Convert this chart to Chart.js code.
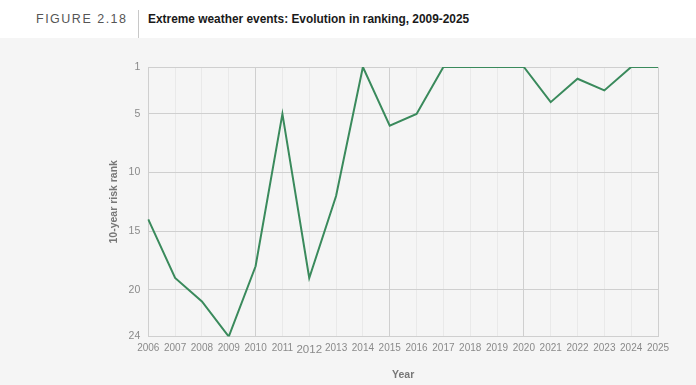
<!DOCTYPE html>
<html>
<head>
<meta charset="utf-8">
<script src="https://cdn.jsdelivr.net/npm/chart.js@4.4.1/dist/chart.umd.min.js"></script>
<style>
  html, body { margin: 0; padding: 0; width: 696px; height: 385px; background: #f5f5f5; overflow: hidden; font-family: "Liberation Sans", Arial, sans-serif; }
  #header { position: absolute; left: 0; top: 0; width: 696px; height: 38px; background: #ffffff; }
  #fig { position: absolute; left: 36px; top: 11px; font-size: 12.5px; letter-spacing: 1.5px; color: #555; line-height: 16px; }
  #divider { position: absolute; left: 138px; top: 10px; width: 1px; height: 28px; background: #c8c8c8; }
  #title { position: absolute; left: 148px; top: 11px; font-size: 11.9px; font-weight: bold; color: #1a1a1a; line-height: 16px; }
  #wrap { position: absolute; left: 0; top: 38px; width: 696px; height: 347px; }
</style>
</head>
<body>
<div id="header">
  <div id="fig">FIGURE 2.18</div>
  <div id="divider"></div>
  <div id="title">Extreme weather events: Evolution in ranking, 2009-2025</div>
</div>
<div id="wrap"><canvas id="c" width="696" height="347"></canvas></div>
<script>
const years = ["2006","2007","2008","2009","2010","2011","2012","2013","2014","2015","2016","2017","2018","2019","2020","2021","2022","2023","2024","2025"];
const ranks = [14, 19, 21, 24, 18, 5, 19, 12, 1, 6, 5, 1, 1, 1, 1, 4, 2, 3, 1, 1];
const rankTicks = [1, 5, 10, 15, 20, 24];
const majorYears = ["2010", "2015", "2020", "2025"];

new Chart(document.getElementById('c'), {
  type: 'line',
  data: {
    labels: years,
    datasets: [{
      data: ranks,
      borderColor: '#3a8a5c',
      borderWidth: 2,
      pointRadius: 0,
      tension: 0,
      fill: false
    }]
  },
  options: {
    responsive: false,
    animation: false,
    layout: { padding: { left: 108, right: 38, top: 29, bottom: 4 } },
    plugins: { legend: { display: false }, tooltip: { enabled: false } },
    scales: {
      x: {
        type: 'category',
        offset: false,
        grid: {
          color: (ctx) => {
            const lbl = ctx.tick ? years[ctx.index] : '';
            return majorYears.includes(lbl) ? '#cfcfcf' : '#e9e9e9';
          },
          lineWidth: 1,
          drawTicks: false
        },
        border: { color: '#cfcfcf', width: 1 },
        ticks: {
          color: '#8a8a8a',
          padding: 6,
          maxRotation: 0,
          autoSkip: false,
          font: (ctx) => ({ family: 'Liberation Sans', size: (ctx.tick && ctx.tick.label === '2012') ? 11.5 : 10 })
        },
        title: {
          display: true,
          text: 'Year',
          color: '#777',
          font: { family: 'Liberation Sans', size: 10.5, weight: 'bold' },
          padding: { top: 6, bottom: 0 }
        }
      },
      y: {
        type: 'linear',
        reverse: true,
        min: 1,
        max: 24,
        afterBuildTicks: (axis) => { axis.ticks = rankTicks.map(v => ({ value: v })); },
        grid: { color: '#cfcfcf', lineWidth: 1, drawTicks: false },
        border: { color: '#cfcfcf', width: 1 },
        ticks: {
          color: '#8a8a8a',
          padding: 8,
          font: { family: 'Liberation Sans', size: 10.5 }
        },
        title: {
          display: true,
          text: '10-year risk rank',
          color: '#777',
          font: { family: 'Liberation Sans', size: 10.5, weight: 'bold' },
          padding: { top: 0, bottom: 0 }
        }
      }
    }
  },
  plugins: [{
    id: 'rightBorder',
    afterDraw(chart) {
      const { ctx, chartArea } = chart;
      ctx.save();
      ctx.strokeStyle = '#cfcfcf';
      ctx.lineWidth = 1;
      ctx.beginPath();
      ctx.moveTo(Math.round(chartArea.right) + 0.5, chartArea.top);
      ctx.lineTo(Math.round(chartArea.right) + 0.5, chartArea.bottom);
      ctx.stroke();
      ctx.restore();
    }
  }]
});
</script>
</body>
</html>
